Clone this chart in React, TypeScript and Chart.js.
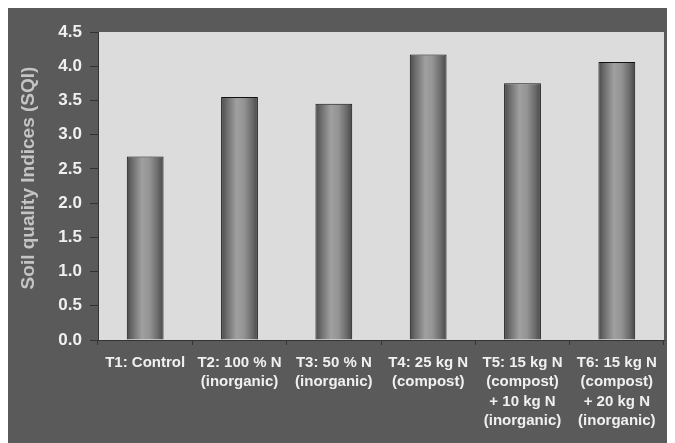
import React, { useEffect, useRef } from "react";
import { Chart, registerables } from "chart.js";

Chart.register(...registerables);

// Treatments (multi-line category labels)
const treatments: string[][] = [
  ["T1: Control"],
  ["T2: 100 % N", "(inorganic)"],
  ["T3: 50 % N", "(inorganic)"],
  ["T4: 25 kg N", "(compost)"],
  ["T5: 15 kg N", "(compost)", "+ 10 kg N", "(inorganic)"],
  ["T6: 15 kg N", "(compost)", "+ 20 kg N", "(inorganic)"],
];

// Soil quality index per treatment
const sqiValues: number[] = [2.68, 3.55, 3.45, 4.17, 3.75, 4.06];

const yMin = 0;
const yMax = 4.5;
const yStep = 0.5;
const yTitle = "Soil quality Indices (SQI)";

const BG = "#5a5a5a";
const PLOT_BG = "#dcdcdc";
const TEXT = "#f0f0f0";
const BAR_FRACTION = 0.39;

// Light-grey plot area behind the bars
const plotBackground = {
  id: "plotBackground",
  beforeDraw(chart: any) {
    const { ctx, chartArea } = chart;
    if (!chartArea) return;
    ctx.save();
    ctx.fillStyle = PLOT_BG;
    ctx.fillRect(chartArea.left, chartArea.top, chartArea.right - chartArea.left, chartArea.bottom - chartArea.top);
    ctx.restore();
  },
};

// Rotated y-axis title
const sideTitle = {
  id: "sideTitle",
  afterDraw(chart: any) {
    const { ctx, chartArea } = chart;
    ctx.save();
    ctx.translate(chartArea.left - 69, (chartArea.top + chartArea.bottom) / 2 - 8);
    ctx.rotate(-Math.PI / 2);
    ctx.font = "bold 19px 'Liberation Sans', Arial, sans-serif";
    ctx.fillStyle = "#c4c4c4";
    ctx.textAlign = "center";
    ctx.textBaseline = "middle";
    ctx.fillText(yTitle, 0, 0);
    ctx.restore();
  },
};

function barGradient(context: any) {
  const chart = context.chart;
  const xs = chart.scales?.x;
  if (!chart.chartArea || !xs || context.dataIndex === undefined) return "#888888";
  const cx = xs.getPixelForValue(context.dataIndex);
  const w = (xs.width / treatments.length) * BAR_FRACTION;
  const g = chart.ctx.createLinearGradient(cx - w / 2, 0, cx + w / 2, 0);
  g.addColorStop(0, "#4a4a4a");
  g.addColorStop(0.15, "#6c6c6c");
  g.addColorStop(0.42, "#a0a0a0");
  g.addColorStop(0.62, "#949494");
  g.addColorStop(0.85, "#6a6a6a");
  g.addColorStop(1, "#474747");
  return g;
}

export default function App() {
  const canvasRef = useRef<HTMLCanvasElement | null>(null);

  useEffect(() => {
    if (!canvasRef.current) return;
    const chart = new Chart(canvasRef.current, {
      type: "bar",
      data: {
        labels: treatments,
        datasets: [
          {
            data: sqiValues,
            backgroundColor: barGradient,
            borderColor: "#111111",
            borderWidth: 1,
            barPercentage: BAR_FRACTION,
            categoryPercentage: 1,
          },
        ],
      },
      options: {
        responsive: false,
        animation: false,
        layout: { padding: { top: 24, right: 11, left: 0, bottom: 0 } },
        plugins: {
          legend: { display: false },
          tooltip: { enabled: false },
        },
        scales: {
          x: {
            grid: {
              display: true,
              drawOnChartArea: false,
              drawTicks: true,
              tickLength: 5,
              color: "#333333",
            },
            border: { display: true, color: "#333333", width: 1 },
            ticks: {
              color: TEXT,
              font: { family: "'Liberation Sans', Arial, sans-serif", size: 15, weight: "bold", lineHeight: 1.3 },
              maxRotation: 0,
              minRotation: 0,
              autoSkip: false,
              padding: 8,
            },
            afterFit(scale: any) {
              scale.height = 103;
            },
          },
          y: {
            min: yMin,
            max: yMax,
            grid: {
              display: true,
              drawOnChartArea: false,
              drawTicks: true,
              tickLength: 8,
              color: "#333333",
            },
            border: { display: true, color: "#333333", width: 1 },
            ticks: {
              stepSize: yStep,
              color: TEXT,
              padding: 8,
              font: { family: "'Liberation Sans', Arial, sans-serif", size: 17, weight: "bold" },
              callback: (v: any) => Number(v).toFixed(1),
            },
            afterFit(scale: any) {
              scale.width = 90;
            },
          },
        },
      },
      plugins: [plotBackground, sideTitle],
    });
    return () => chart.destroy();
  }, []);

  return (
    <div style={{ width: 667, height: 435, background: BG }}>
      <canvas ref={canvasRef} width={667} height={435} style={{ display: "block" }} />
    </div>
  );
}
